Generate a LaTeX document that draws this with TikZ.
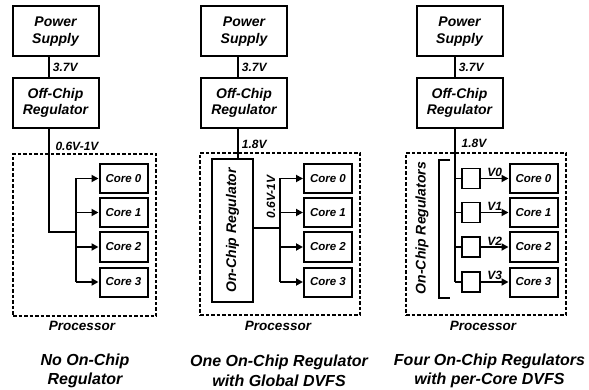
\documentclass[tikz,border=0pt]{standalone}
\usepackage{fontspec}
\setmainfont{Liberation Sans}
\usepackage{tikz}
\usetikzlibrary{calc,arrows.meta,positioning}

\begin{document}
\begin{tikzpicture}[x=1pt,y=-1pt,
      blk/.style={draw,line width=2pt,minimum width=86pt,minimum height=50pt,inner sep=1pt,align=center,
                  font=\fontsize{14}{16.5}\selectfont\bfseries\itshape},
      cr/.style={draw,line width=2pt,minimum width=48pt,minimum height=29pt,inner sep=1pt,
                 font=\fontsize{11.5}{13}\selectfont\bfseries\itshape},
      rg/.style={draw,line width=1.8pt,minimum width=18pt,minimum height=20pt,inner sep=0pt},
      pr/.style={draw,line width=1.5pt,dash pattern=on 3.5pt off 2pt,minimum height=162pt,inner sep=0pt},
      wr/.style={line width=1.8pt},
      ar/.style={line width=1.8pt,-{Triangle[length=7pt,width=7pt]}},
      vl/.style={font=\fontsize{12}{14}\selectfont\bfseries\itshape,inner sep=1pt},
      pl/.style={font=\fontsize{13.5}{16}\selectfont\bfseries\itshape},
      cp/.style={align=center,font=\fontsize{16}{19.5}\selectfont\bfseries\itshape}]
    \useasboundingbox (0,0) rectangle (589,390);
    % no on-chip regulator
    \node[blk] (ps1) at (55.5,31.5) {Power\\Supply};
    \node[blk] (oc1) at (55.5,103) {Off-Chip\\Regulator};
    \node[pr,minimum width=143pt] (pr1) at (84.5,235) {};
    \node[cr] (c10) at (123.5,178.5) {Core 0};
    \node[cr] (c11) at (123.5,212.5) {Core 1};
    \node[cr] (c12) at (123.5,247) {Core 2};
    \node[cr] (c13) at (123.5,282) {Core 3};
    \coordinate (j1) at (49,232);
    \coordinate (b1) at (76,232);
    \draw[wr] (ps1.south -| j1) -- node[vl,right=2pt] (v1a) {3.7V} (oc1.north -| j1);
    \draw[wr] (oc1.south -| j1) -- (j1) -- (b1);
    \draw[wr] (c10.west -| b1) -- (c13.west -| b1);
    \foreach \i in {0,...,3} \draw[ar] (c1\i.west -| b1) -- (c1\i.west);
    \node[vl] (v1b) at (77,146) {0.6V-1V};
    \node[pl] (pl1) at (82,326) {Processor};
    \node[cp] (cp1) at (85,371) {No On-Chip\\Regulator};
    % one on-chip regulator
    \node[blk] (ps2) at (244,31.5) {Power\\Supply};
    \node[blk] (oc2) at (244,103) {Off-Chip\\Regulator};
    \node[pr,minimum width=160pt] (pr2) at (280,234) {};
    \node[blk,rotate=90,minimum width=143pt,minimum height=41pt] (on2) at (232.5,230.5) {On-Chip Regulator};
    \node[cr] (c20) at (328,178.5) {Core 0};
    \node[cr] (c21) at (328,212.5) {Core 1};
    \node[cr] (c22) at (328,247) {Core 2};
    \node[cr] (c23) at (328,282) {Core 3};
    \coordinate (j2) at (238,159);
    \coordinate (b2) at (280,228);
    \draw[wr] (ps2.south -| j2) -- node[vl,right=2pt] (v2a) {3.7V} (oc2.north -| j2);
    \draw[wr] (oc2.south -| j2) -- node[vl,right=2pt] (v2b) {1.8V} (j2);
    \draw[wr] (b2 -| on2.south) -- (b2);
    \draw[wr] (c20.west -| b2) -- (c23.west -| b2);
    \foreach \i in {0,...,3} \draw[ar] (c2\i.west -| b2) -- (c2\i.west);
    \node[vl,rotate=90] (v2c) at (271,197) {0.6V-1V};
    \node[pl] (pl2) at (278,326) {Processor};
    \node[cp] (cp2) at (279,371) {One On-Chip Regulator\\with Global DVFS};
    % four on-chip regulators
    \node[blk] (ps3) at (459.5,31.5) {Power\\Supply};
    \node[blk] (oc3) at (459.5,103) {Off-Chip\\Regulator};
    \node[pr,minimum width=160pt] (pr3) at (486,234) {};
    \foreach \i/\y in {0/178.5,1/212.5,2/247,3/282} {
      \node[cr] (c3\i) at (533.5,\y) {Core \i};
      \node[rg] (r3\i) at (471,\y) {};
    }
    \coordinate (j3) at (455,0);
    \draw[wr] (ps3.south -| j3) -- node[vl,right=2pt] (v3a) {3.7V} (oc3.north -| j3);
    \draw[wr] (oc3.south -| j3) -- (r33.west -| j3);
    \node[vl] (v3b) at (474,143) {1.8V};
    \foreach \i in {0,...,3} {
      \draw[wr] (r3\i.west -| j3) -- (r3\i.west);
      \draw[ar] (r3\i.east) -- node[vl,above=0pt] {V\i} (c3\i.west);
    }
    \coordinate (bt) at (450,160);
    \coordinate (bb) at (450,298);
    \draw[wr] (bt) -| (439,229) |- (bb);
    \node[rotate=90,font=\fontsize{14}{16.5}\selectfont\bfseries\itshape] (on3) at (422,228) {On-Chip Regulators};
    \node[pl] (pl3) at (483,326) {Processor};
    \node[cp] (cp3) at (489.5,371) {Four On-Chip Regulators\\with per-Core DVFS};
  \end{tikzpicture}
\end{document}
